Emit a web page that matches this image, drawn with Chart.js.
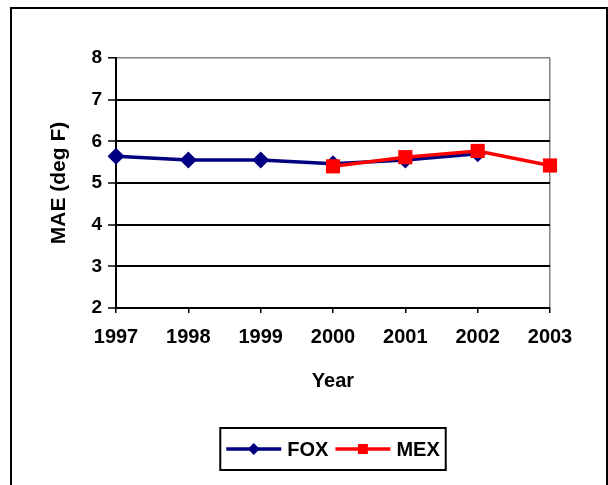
<!DOCTYPE html>
<html>
<head>
<meta charset="utf-8">
<script src="https://cdn.jsdelivr.net/npm/chart.js@4.4.1/dist/chart.umd.min.js"></script>
<style>
  html, body { margin: 0; padding: 0; background: #fff; }
  #wrap { width: 608px; height: 485px; position: relative; }
</style>
</head>
<body>
<div id="wrap"><canvas id="chart" width="608" height="485"></canvas></div>
<script>
// Data
const years = ['1997', '1998', '1999', '2000', '2001', '2002', '2003'];
const foxValues = [5.64, 5.55, 5.55, 5.46, 5.55, 5.70, null];
const mexValues = [null, null, null, 5.40, 5.62, 5.77, 5.42];
const yTicks = [2, 3, 4, 5, 6, 7, 8];

const FONT = "'Liberation Sans', Arial, sans-serif";
const NAVY = '#000080';
const RED = '#FF0000';

// Outer frame around the whole chart
const framePlugin = {
    id: 'frame',
    beforeDraw(chart) {
        const ctx = chart.ctx;
        ctx.save();
        ctx.fillStyle = '#fff';
        ctx.fillRect(0, 0, chart.width, chart.height);
        ctx.strokeStyle = '#000';
        ctx.lineWidth = 2;
        ctx.strokeRect(11, 8, 596, 500);
        ctx.restore();
    }
};

// Legend box with line + marker, like the spreadsheet legend
const legendPlugin = {
    id: 'boxLegend',
    afterDraw(chart) {
        const ctx = chart.ctx;
        const area = chart.chartArea;
        const items = chart.data.datasets.map(ds => ({
            label: ds.label, color: ds.borderColor, style: ds.pointStyle
        }));
        ctx.save();
        ctx.font = 'bold 20px ' + FONT;
        const lineLen = 55, gap = 6, itemGap = 7, pad = 6;
        let total = pad * 2;
        items.forEach((it, i) => {
            it.w = ctx.measureText(it.label).width;
            total += lineLen + gap + it.w + (i > 0 ? itemGap : 0);
        });
        const cx = (area.left + area.right) / 2;
        const cy = 449;
        const h = 42;
        let x = cx - total / 2;
        ctx.strokeStyle = '#000';
        ctx.lineWidth = 2;
        ctx.strokeRect(x, cy - h / 2, total, h);
        x += pad;
        items.forEach((it, i) => {
            if (i > 0) x += itemGap;
            ctx.strokeStyle = it.color;
            ctx.lineWidth = 3.5;
            ctx.beginPath();
            ctx.moveTo(x, cy);
            ctx.lineTo(x + lineLen, cy);
            ctx.stroke();
            ctx.fillStyle = it.color;
            const mx = x + lineLen / 2;
            ctx.beginPath();
            if (it.style === 'rectRot') {
                ctx.moveTo(mx, cy - 6);
                ctx.lineTo(mx + 6, cy);
                ctx.lineTo(mx, cy + 6);
                ctx.lineTo(mx - 6, cy);
                ctx.closePath();
            } else {
                ctx.rect(mx - 5, cy - 5, 10, 10);
            }
            ctx.fill();
            x += lineLen + gap;
            ctx.fillStyle = '#000';
            ctx.textBaseline = 'middle';
            ctx.textAlign = 'left';
            ctx.fillText(it.label, x, cy + 1);
            x += it.w;
        });
        ctx.restore();
    }
};

const ctx = document.getElementById('chart').getContext('2d');
const chart = new Chart(ctx, {
    type: 'line',
    data: {
        labels: years,
        datasets: [
            {
                label: 'FOX',
                data: foxValues,
                borderColor: NAVY,
                backgroundColor: NAVY,
                borderWidth: 3.5,
                pointStyle: 'rectRot',
                pointRadius: 8.5,
                pointBorderWidth: 0,
                tension: 0,
                order: 1
            },
            {
                label: 'MEX',
                data: mexValues,
                borderColor: RED,
                backgroundColor: RED,
                borderWidth: 3.5,
                pointStyle: 'rect',
                pointRadius: 10,
                pointBorderWidth: 0,
                tension: 0,
                order: 0
            }
        ]
    },
    options: {
        responsive: false,
        animation: false,
        devicePixelRatio: 1,
        layout: {
            padding: { left: 20, right: 58, top: 58, bottom: 87 }
        },
        plugins: {
            legend: { display: false },
            tooltip: { enabled: false }
        },
        scales: {
            x: {
                type: 'category',
                offset: false,
                afterFit: s => { s.height = 90; },
                border: { color: '#000', width: 2 },
                grid: {
                    drawOnChartArea: true,
                    color: c => (c.index === years.length - 1 ? '#808080' : 'rgba(0,0,0,0)'),
                    lineWidth: 1.5,
                    tickColor: '#000',
                    tickWidth: 1.5,
                    tickLength: 5
                },
                ticks: {
                    color: '#000',
                    font: { family: FONT, size: 20, weight: 'bold' },
                    padding: 12,
                    maxRotation: 0,
                    autoSkip: false
                },
                title: {
                    display: true,
                    text: 'Year',
                    color: '#000',
                    font: { family: FONT, size: 20, weight: 'bold' },
                    padding: { top: 0, bottom: 5 }
                }
            },
            y: {
                min: yTicks[0],
                max: yTicks[yTicks.length - 1],
                afterFit: s => { s.width = 96; },
                afterBuildTicks: s => { s.ticks = yTicks.map(v => ({ value: v })); },
                border: { color: '#000', width: 2 },
                grid: {
                    color: c => (c.tick && c.tick.value === 8 ? '#808080' : '#000'),
                    lineWidth: c => (c.tick && c.tick.value === 8 ? 1.5 : 2),
                    tickColor: '#000',
                    tickWidth: 1.5,
                    tickLength: 8
                },
                ticks: {
                    color: '#000',
                    font: { family: FONT, size: 19, weight: 'bold' },
                    padding: 6
                },
                title: {
                    display: true,
                    text: 'MAE (deg F)',
                    color: '#000',
                    font: { family: FONT, size: 21, weight: 'bold' },
                    padding: { top: 27, bottom: 0 }
                }
            }
        }
    },
    plugins: [framePlugin, legendPlugin]
});
</script>
</body>
</html>
